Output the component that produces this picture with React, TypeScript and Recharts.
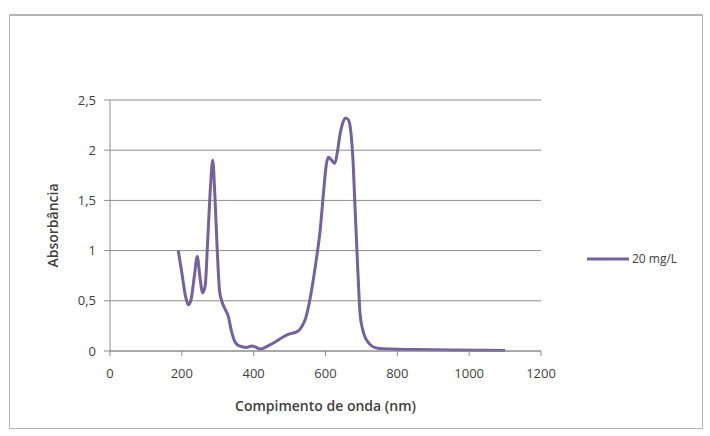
import React from 'react';
import { LineChart, Line, XAxis, YAxis, CartesianGrid, Legend } from 'recharts';

const wavelengths = [190, 200, 210, 218, 225, 235, 243, 250, 258, 265, 272, 280, 286, 292, 298, 305, 311, 320, 329, 338, 348, 360, 380, 395, 405, 418, 440, 460, 482, 500, 520, 535, 545, 556, 566, 576, 585, 595, 602, 608, 617, 626, 633, 640, 648, 656, 664, 670, 677, 682, 687, 692, 696, 703, 710, 720, 733, 750, 780, 850, 950, 1050, 1100];
const absorbance = [1.0, 0.78, 0.55, 0.46, 0.5, 0.75, 0.94, 0.75, 0.58, 0.65, 1.1, 1.65, 1.9, 1.55, 1.05, 0.6, 0.5, 0.42, 0.35, 0.2, 0.09, 0.05, 0.035, 0.05, 0.04, 0.02, 0.05, 0.09, 0.14, 0.17, 0.19, 0.25, 0.33, 0.5, 0.71, 0.95, 1.2, 1.6, 1.85, 1.93, 1.9, 1.87, 1.98, 2.15, 2.27, 2.32, 2.3, 2.2, 1.87, 1.45, 1.04, 0.65, 0.38, 0.22, 0.14, 0.08, 0.04, 0.025, 0.02, 0.015, 0.01, 0.008, 0.006];
const xTicks = [0, 200, 400, 600, 800, 1000, 1200];
const yTicks = [0, 0.5, 1, 1.5, 2, 2.5];
const seriesName = '20 mg/L';
const xTitle = 'Compimento de onda (nm)';
const yTitle = 'Absorbância';

const data = wavelengths.map((w, i) => ({ nm: w, a: absorbance[i] }));

const FONT = '"Open Sans", sans-serif';
const LINE_COLOR = '#7461a0';

const fmtY = (v: number) => String(v).replace('.', ',');

const LegendContent = (props: any) => {
  const item = props.payload && props.payload[0];
  return (
    <div style={{ display: 'flex', alignItems: 'center', fontFamily: FONT, fontSize: 12, color: '#404040' }}>
      <svg width={42} height={6} style={{ marginRight: 3 }}>
        <line x1={0} y1={3} x2={42} y2={3} stroke={item ? item.color : LINE_COLOR} strokeWidth={3} />
      </svg>
      <span>{item ? item.value : seriesName}</span>
    </div>
  );
};

export default function App() {
  return (
    <div style={{ position: 'absolute', left: 0, top: 0, width: 710, height: 436, background: '#fff' }}>
      <div style={{ position: 'absolute', left: 9, top: 14, width: 692, height: 412, border: '1px solid #b4b4b4', borderTop: '2px solid #b4b4b4' }} />
      <LineChart
        width={710}
        height={436}
        data={data}
        margin={{ top: 100, right: 169, bottom: 15, left: 40 }}
        style={{ position: 'absolute', left: 0, top: 0 }}
      >
        <CartesianGrid vertical={false} stroke="#8c8c8c" strokeWidth={1} />
        <XAxis
          dataKey="nm"
          type="number"
          domain={[0, 1200]}
          ticks={xTicks}
          interval={0}
          height={70}
          stroke="#8c8c8c"
          tickLine={{ stroke: '#8c8c8c' }}
          tickSize={5}
          tickMargin={13}
          tick={{ fill: '#404040', fontSize: 13, fontFamily: FONT }}
          tickFormatter={(v: number) => String(v)}
          label={{ value: xTitle, position: 'insideBottom', offset: 10, fill: '#404040', fontSize: 14, fontFamily: FONT, fontWeight: 600 }}
        />
        <YAxis
          type="number"
          domain={[0, 2.5]}
          ticks={yTicks}
          interval={0}
          width={70}
          stroke="#8c8c8c"
          tickLine={{ stroke: '#8c8c8c' }}
          tickSize={6}
          tickMargin={8}
          tick={{ fill: '#404040', fontSize: 13, fontFamily: FONT }}
          tickFormatter={fmtY}
          label={{ value: yTitle, angle: -90, position: 'insideLeft', offset: 13, fill: '#404040', fontSize: 14, fontFamily: FONT, fontWeight: 600, style: { textAnchor: 'middle' } }}
        />
        <Legend
          layout="horizontal"
          align="center"
          verticalAlign="middle"
          wrapperStyle={{ left: 587, top: 250, width: 120 }}
          content={<LegendContent />}
        />
        <Line
          type="monotone"
          dataKey="a"
          name={seriesName}
          stroke={LINE_COLOR}
          strokeWidth={3}
          dot={false}
          activeDot={false}
          isAnimationActive={false}
        />
      </LineChart>
    </div>
  );
}
